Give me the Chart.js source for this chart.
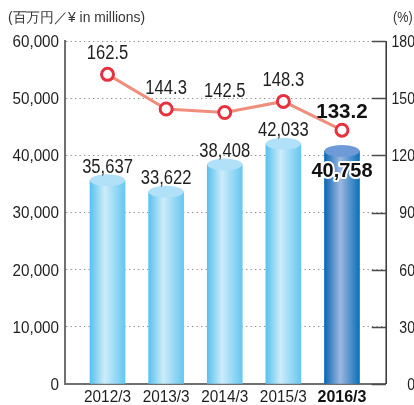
<!DOCTYPE html>
<html>
<head>
<meta charset="utf-8">
<script src="https://cdn.jsdelivr.net/npm/chart.js@4/dist/chart.umd.min.js"></script>
<style>
  html, body { margin: 0; padding: 0; background: #fff; }
  #wrap { width: 414px; height: 405px; position: relative; }
</style>
</head>
<body>
<div id="wrap"><canvas id="c"></canvas></div>
<script>
"use strict";

// data
const years = ['2012/3', '2013/3', '2014/3', '2015/3', '2016/3'];
const sales = [35637, 33622, 38408, 42033, 40758];   // 百万円
const ratios = [162.5, 144.3, 142.5, 148.3, 133.2];   // %
const leftTicks = [0, 10000, 20000, 30000, 40000, 50000, 60000];
const rightTicks = [0, 30, 60, 90, 120, 150, 180];

const FONT = "'Liberation Sans', Arial, sans-serif";
const last = years.length - 1;

// 横に縮めた文字を書く（コンデンス書体の代わり）
const drawText = (ctx, txt, x, y, font, align, sx, opts = {}) => {
    ctx.save();
    ctx.translate(x, y);
    ctx.scale(sx, 1);
    ctx.font = font;
    ctx.textAlign = align;
    ctx.textBaseline = opts.baseline || 'middle';
    if (opts.outline) {
        ctx.lineJoin = 'round';
        ctx.lineWidth = opts.outline;
        ctx.strokeStyle = '#fff';
        ctx.strokeText(txt, 0, 0);
    }
    ctx.fillStyle = opts.color || '#1e1e1e';
    ctx.fillText(txt, 0, 0);
    ctx.restore();
};

// 円柱っぽいグラデーション
const barFill = (ctx) => {
    const chart = ctx.chart;
    const xs = chart.scales.x;
    const fallback = ctx.dataIndex === last ? '#2a7fc2' : '#7ccdf2';
    if (!xs || ctx.dataIndex === undefined || !chart.chartArea) return fallback;
    const cx = xs.getPixelForValue(ctx.dataIndex);
    if (!isFinite(cx)) return fallback;
    const g = chart.ctx.createLinearGradient(cx - 17.5, 0, cx + 17.5, 0);
    if (ctx.dataIndex === last) {
        g.addColorStop(0, '#0868b2');
        g.addColorStop(0.45, '#9db7e0');
        g.addColorStop(1, '#0a70ba');
    } else {
        g.addColorStop(0, '#58c1ee');
        g.addColorStop(0.42, '#cdecfa');
        g.addColorStop(1, '#66c7f0');
    }
    return g;
};

// 枠・タイトル・ラベルなど
const decor = {
    id: 'decor',
    afterDatasetsDraw(chart) {
        const { ctx, chartArea: a, scales } = chart;
        const bars = chart.getDatasetMeta(0).data;
        const pts = chart.getDatasetMeta(1).data;
        ctx.save();

        // 円柱の上面
        bars.forEach((b, i) => {
            ctx.beginPath();
            ctx.ellipse(b.x, b.y, 17.5, 6, 0, 0, Math.PI * 2);
            ctx.fillStyle = i === last ? '#6f9ad8' : '#b0e1f8';
            ctx.fill();
        });

        // 右軸の内向き目盛
        ctx.strokeStyle = '#4a4a4a';
        ctx.lineWidth = 1.5;
        rightTicks.forEach(v => {
            const y = Math.round(scales.y1.getPixelForValue(v)) + 0.5;
            ctx.beginPath();
            ctx.moveTo(a.right - 14, y);
            ctx.lineTo(a.right, y);
            ctx.stroke();
        });

        // 右軸線
        ctx.strokeStyle = '#333';
        ctx.beginPath();
        ctx.moveTo(a.right + 0.5, a.top);
        ctx.lineTo(a.right + 0.5, a.bottom);
        ctx.stroke();
        ctx.restore();

        // 売上ラベル
        bars.forEach((b, i) => {
            const txt = sales[i].toLocaleString('en-US');
            if (i === last) {
                drawText(ctx, txt, b.x, b.y + 20, "bold 20px " + FONT, 'center', 1, { outline: 4, color: '#111' });
            } else {
                drawText(ctx, txt, b.x, b.y - 13, "20px " + FONT, 'center', 0.83);
            }
        });

        // 比率ラベル
        pts.forEach((p, i) => {
            if (i === last) {
                drawText(ctx, ratios[i].toFixed(1), p.x, p.y - 18, "bold 21px " + FONT, 'center', 0.98, { color: '#111' });
            } else {
                drawText(ctx, ratios[i].toFixed(1), p.x, p.y - 21, "20px " + FONT, 'center', 0.83);
            }
        });

        // 左目盛ラベル
        leftTicks.forEach(v => {
            const y = scales.y.getPixelForValue(v) + 1.5;
            drawText(ctx, v.toLocaleString('en-US'), 59, y, "16px " + FONT, 'right', 0.95);
        });

        // 右目盛ラベル
        rightTicks.forEach(v => {
            const y = scales.y1.getPixelForValue(v) + 1.5;
            drawText(ctx, String(v), 415, y, "16px " + FONT, 'right', 0.88);
        });

        // 年度ラベル
        years.forEach((t, i) => {
            const x = scales.x.getPixelForValue(i);
            if (i === last) {
                drawText(ctx, t, x, 402, "bold 16px " + FONT, 'center', 1.0, { baseline: 'alphabetic', color: '#111' });
            } else {
                drawText(ctx, t, x, 402, "16px " + FONT, 'center', 0.96, { baseline: 'alphabetic' });
            }
        });

        // 単位
        ctx.save();
        ctx.font = "14px " + FONT;
        const w = ctx.measureText('(百万円／¥ in millions)').width;
        ctx.restore();
        drawText(ctx, '(百万円／¥ in millions)', 8, 18, "14px " + FONT, 'left', 137 / w, { color: '#333' });
        drawText(ctx, '(%)', 393, 18, "14px " + FONT, 'left', 0.9, { color: '#333' });
    }
};

const chart = new Chart(document.getElementById('c'), {
    type: 'bar',
    data: {
        datasets: [{
            type: 'bar',
            data: sales.map((v, i) => ({ x: i, y: v })),
            backgroundColor: barFill,
            borderWidth: 0,
            barThickness: 35,
            yAxisID: 'y',
            order: 2
        }, {
            type: 'line',
            data: ratios.map((v, i) => ({ x: i, y: v })),
            yAxisID: 'y1',
            borderColor: '#f08e7e',
            borderWidth: 3,
            pointRadius: 6,
            pointBorderWidth: 3,
            pointBackgroundColor: '#fff',
            pointBorderColor: '#e6323f',
            order: 1
        }]
    },
    options: {
        responsive: true,
        maintainAspectRatio: false,
        animation: false,
        plugins: { legend: { display: false }, tooltip: { enabled: false } },
        layout: { padding: { top: 41, left: 0, right: 0, bottom: 0 } },
        scales: {
            x: {
                type: 'linear',
                offset: false,
                min: -0.734,
                max: 4.746,
                afterBuildTicks: s => { s.ticks = years.map((_, i) => ({ value: i })); },
                afterFit: s => { s.height = 21; },
                grid: { display: false, offset: false },
                border: { color: '#707070', width: 2 },
                ticks: { display: false }
            },
            y: {
                position: 'left',
                min: 0,
                max: 60000,
                afterBuildTicks: s => { s.ticks = leftTicks.map(v => ({ value: v })); },
                afterFit: s => { s.width = 64.5; },
                grid: { color: '#8c8c8c', lineWidth: 1, drawTicks: false },
                border: { color: '#707070', width: 2, dash: [1.3, 3.2] },
                ticks: { display: false }
            },
            y1: {
                position: 'right',
                min: 0,
                max: 180,
                afterBuildTicks: s => { s.ticks = rightTicks.map(v => ({ value: v })); },
                afterFit: s => { s.width = 28.3; },
                grid: { display: false, drawTicks: false },
                border: { display: false },
                ticks: { display: false }
            }
        }
    },
    plugins: [decor]
});
</script>
</body>
</html>
